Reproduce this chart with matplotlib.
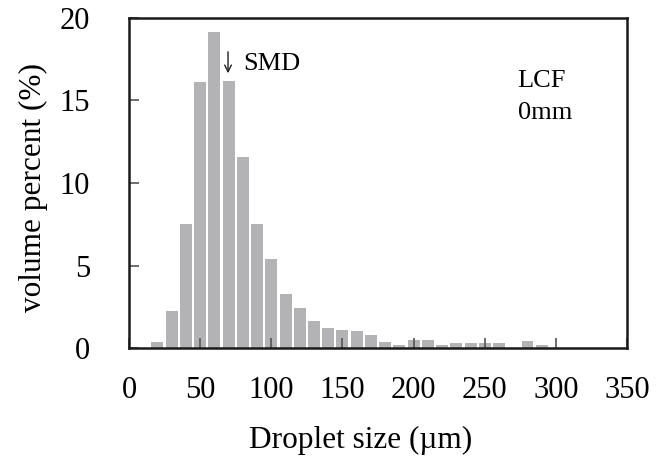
import matplotlib
matplotlib.use("Agg")

import matplotlib.pyplot as plt

# droplet size bin centres (um) and volume percent
sizes = [20, 30, 40, 50, 60, 70, 80, 90, 100, 110, 120, 130, 140, 150,
         160, 170, 180, 190, 200, 210, 220, 230, 240, 250, 260, 270, 280, 290]
volume = [0.38, 2.26, 7.5, 16.1, 19.13, 16.2, 11.6, 7.5, 5.37, 3.3, 2.4, 1.64,
          1.19, 1.09, 1.01, 0.81, 0.38, 0.2, 0.48, 0.48, 0.2, 0.28, 0.28, 0.28,
          0.28, 0.0, 0.4, 0.2]

x_ticks = [0, 50, 100, 150, 200, 250, 300, 350]
y_ticks = [0, 5, 10, 15, 20]

plt.rcParams["font.family"] = ["Liberation Serif", "DejaVu Serif"]

fig = plt.figure(figsize=(6.7, 4.61), dpi=100)
ax = fig.add_axes([0.1925, 0.245, 0.7435, 0.716])

ax.bar(sizes, volume, width=8.4, color="#b3b3b5", zorder=1)

ax.set_xlim(0, 350)
ax.set_ylim(0, 20)
ax.set_xticks(x_ticks)
ax.set_yticks(y_ticks)

ax.tick_params(axis="x", direction="in", length=7, width=1.2, color="#555555",
               labelsize=22, pad=20, top=False)
ax.tick_params(axis="y", direction="in", length=7, width=1.2, color="#555555",
               labelsize=22, pad=28, right=False)
for t in ax.get_xticklines() + ax.get_yticklines():
    t.set_zorder(3)

for side in ["left", "right", "top", "bottom"]:
    ax.spines[side].set_linewidth(1.8)
    ax.spines[side].set_color("#1a1a1a")
    ax.spines[side].set_zorder(4)

ax.set_xlabel("Droplet size (µm)", fontsize=22.5)
ax.set_ylabel("volume percent (%)", fontsize=22.5)
ax.xaxis.set_label_coords(0.465, -0.235)
ax.yaxis.set_label_coords(-0.163, 0.485)

# SMD marker
ax.annotate("", xy=(69.6, 16.65), xytext=(69.6, 17.95),
            arrowprops=dict(arrowstyle="->", lw=1.0, color="#222222",
                            mutation_scale=12, shrinkA=0, shrinkB=0))
ax.text(80, 16.85, "SMD", fontsize=19, va="baseline", ha="left")
ax.text(273, 15.8, "LCF", fontsize=19, va="baseline", ha="left")
ax.text(273, 13.9, "0mm", fontsize=19, va="baseline", ha="left")

plt.savefig("out.png", dpi=100)
plt.close(fig)
